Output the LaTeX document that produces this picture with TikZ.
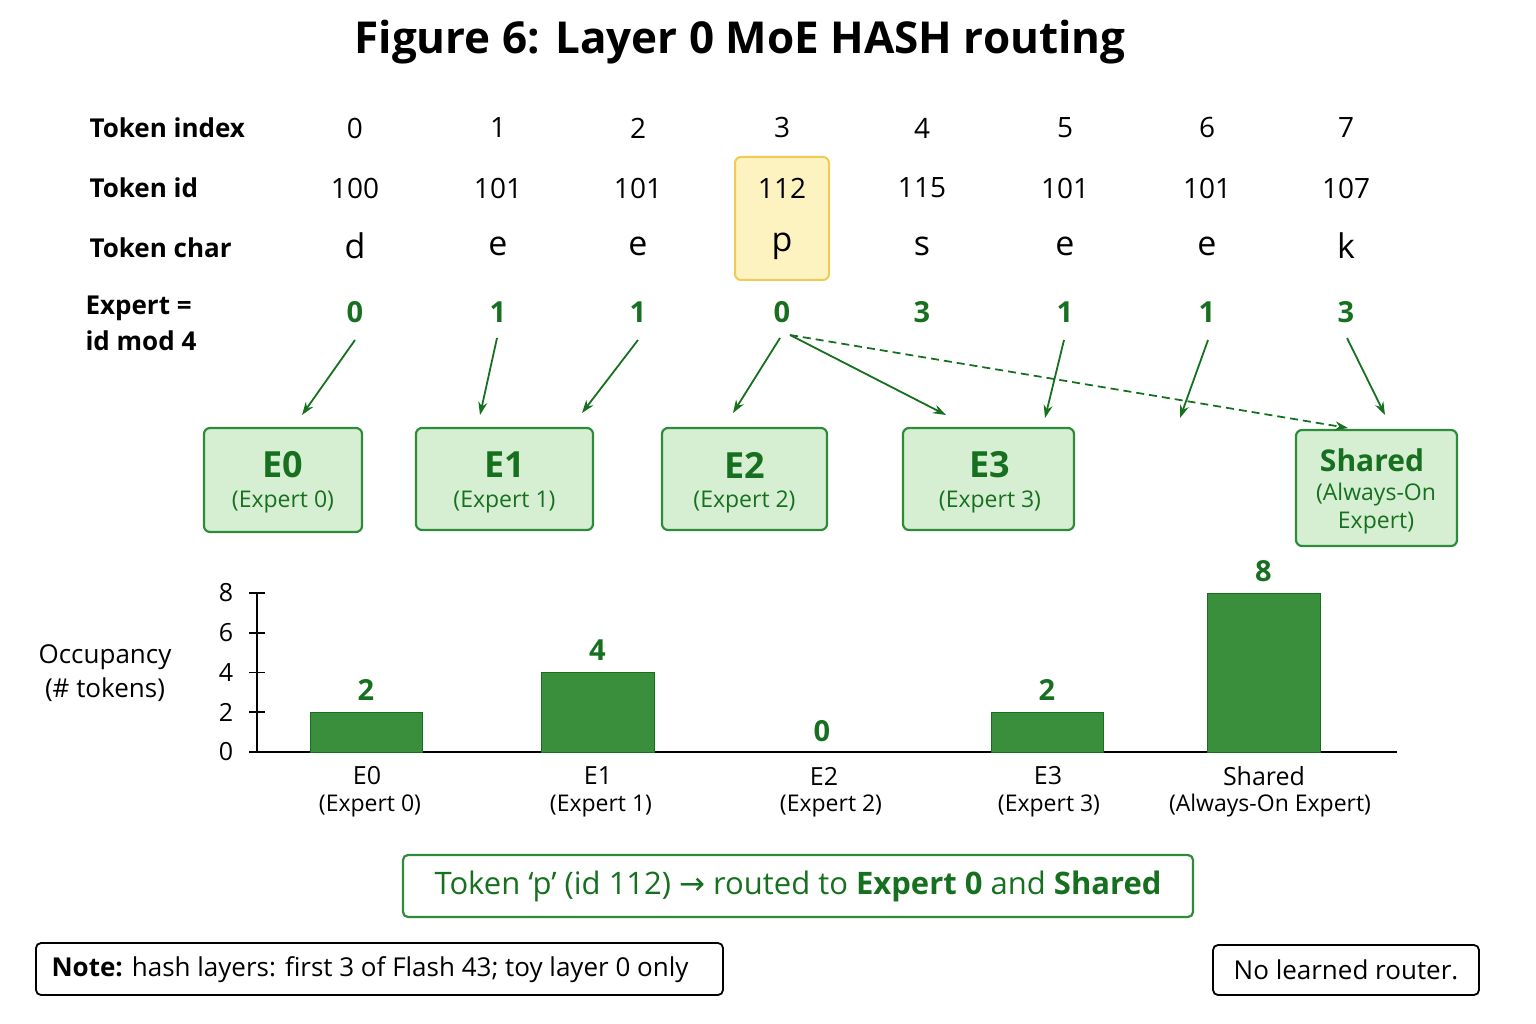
\documentclass[tikz,border=0pt]{standalone}
\usepackage{fontspec}
\setmainfont{Open Sans}
\newfontfamily\dv{DejaVu Sans}
\usetikzlibrary{arrows.meta}
\definecolor{dg}{HTML}{16701F}
\definecolor{bf}{HTML}{D6EFD3}
\definecolor{bd}{HTML}{2E8B3A}
\definecolor{bar}{HTML}{3A8F3C}
\definecolor{hy}{HTML}{FCF3C0}
\definecolor{hb}{HTML}{EFCB55}
\begin{document}
\begin{tikzpicture}[x=1pt,y=-1pt,
 lab/.style={font=\fontsize{26}{30}\selectfont\bfseries,anchor=west},
 cell/.style={font=\fontsize{28}{30}\selectfont},
 ex/.style={font=\fontsize{29}{30}\selectfont\bfseries,text=dg},
 ebox/.style={draw=bd,line width=2.2pt,fill=bf,rounded corners=6pt},
 arr/.style={-{Stealth[length=13pt,width=9pt]},dg,line width=1.8pt},
 bartxt/.style={font=\fontsize{29}{30}\selectfont\bfseries,text=dg},
 cat/.style={font=\fontsize{23}{29}\selectfont,align=center},
 nb/.style={draw=black,line width=1.8pt,rounded corners=5pt}]
\useasboundingbox (0,0) rectangle (1536,1024);
\node[font=\fontsize{44}{50}\selectfont\bfseries] (title) at (740,42) {Figure 6: Layer 0 MoE HASH routing};
\node[lab] (l1) at (86,128) {Token index};
\node[lab] (l2) at (86,188) {Token id};
\node[lab] (l3) at (86,248) {Token char};
\node[lab,align=left,anchor=north west,font=\fontsize{26}{36}\selectfont\bfseries] (l4) at (82,292) {Expert =\\id mod 4};
\node[draw=hb,fill=hy,line width=2pt,rounded corners=6pt,minimum width=94pt,minimum height=123pt] (hl) at (782,218.5) {};
\foreach \x/\i/\d/\c/\e [count=\k from 0] in {355/0/100/d/0,498/1/101/e/1,638/2/101/e/1,782/3/112/p/0,922/4/115/s/3,1065/5/101/e/1,1207/6/101/e/1,1346/7/107/k/3}{
 \node[cell] (i\k) at (\x,128) {\i};
 \node[cell] (d\k) at (\x,188) {\d};
 \node[cell,font=\fontsize{34}{36}\selectfont] (c\k) at (\x,246) {\c};
 \node[ex] (e\k) at (\x,312) {\e};
}
\node[ebox,minimum width=158pt,minimum height=104pt] (E0) at (283,480) {};
\node[ebox,minimum width=177pt,minimum height=102pt] (E1) at (504.5,479) {};
\node[ebox,minimum width=165pt,minimum height=102pt] (E2) at (744.5,479) {};
\node[ebox,minimum width=171pt,minimum height=102pt] (E3) at (988.5,479) {};
\node[ebox,minimum width=161pt,minimum height=116pt] (ES) at (1376.5,488) {};
\foreach \n/\a/\b/\x in {E0/E0/Expert 0/283,E1/E1/Expert 1/504.5,E2/E2/Expert 2/744.5,E3/E3/Expert 3/990}{
 \node[text=dg,font=\fontsize{36}{38}\selectfont\bfseries] at (\x,465) {\a};
 \node[text=dg,font=\fontsize{23}{26}\selectfont] at (\x,502) {(\b)};
}
\node[text=dg,font=\fontsize{30}{32}\selectfont\bfseries] at (1372,460) {Shared};
\node[text=dg,font=\fontsize{23}{28}\selectfont,align=center] at (1376,509) {(Always-On\\Expert)};
\coordinate (t0) at (302,415); \coordinate (t1) at (480,415); \coordinate (t2) at (582,413);
\coordinate (t3) at (733,413); \coordinate (t3b) at (946,415); \coordinate (t3c) at (1348,428);
\coordinate (t5) at (1045,418); \coordinate (t6) at (1180,418); \coordinate (t7) at (1385,415);
\coordinate (s3) at (790,335);
\draw[arr] (355,340) -- (t0);
\draw[arr] (497,338) -- (t1);
\draw[arr] (638,340) -- (t2);
\draw[arr] (780,338) -- (t3);
\draw[arr] (s3) -- (t3b);
\draw[arr,dash pattern=on 8pt off 5pt] (s3) -- (t3c);
\draw[arr] (1064,340) -- (t5);
\draw[arr] (1208,340) -- (t6);
\draw[arr] (1347,338) -- (t7);
% chart
\def\u{19.875}
\draw[line width=2.4pt] (257,593) -- (257,752) -- (1397,752);
\foreach \v in {0,2,4,6,8}{
 \draw[line width=1.8pt] (249,752-\v*\u) -- (265,752-\v*\u);
 \node[font=\fontsize{25}{28}\selectfont] at (226,752-\v*\u) {\v};
}
\node[font=\fontsize{26}{34}\selectfont,align=center] (occ) at (105,673) {Occupancy\\(\# tokens)};
\foreach \a/\b/\h/\m in {310/422/2/366,541/654/4/597.5,991/1103/2/1047,1207/1320/8/1263.5}{
 \fill[bar,draw=dg,line width=1pt] (\a,752) rectangle (\b,752-\h*\u);
 \node[bartxt] at (\m,752-\h*\u-22) {\h};
}
\node[bartxt] at (822,731) {0};
\node[cat,font=\fontsize{25}{30}\selectfont] at (367,776) {E0}; \node[cat] at (370,806) {(Expert 0)};
\node[cat,font=\fontsize{25}{30}\selectfont] at (598,776) {E1}; \node[cat] at (601,806) {(Expert 1)};
\node[cat,font=\fontsize{25}{30}\selectfont] at (824,776) {E2}; \node[cat] at (831,806) {(Expert 2)};
\node[cat,font=\fontsize{25}{30}\selectfont] at (1048,776) {E3}; \node[cat] at (1049,806) {(Expert 3)};
\node[cat,font=\fontsize{25}{30}\selectfont] at (1264,776) {Shared}; \node[cat] at (1270,806) {(Always-On Expert)};
\node[draw=bd,line width=2.2pt,rounded corners=5pt,minimum width=790pt,minimum height=62pt,text=dg,font=\fontsize{31}{34}\selectfont] (res) at (798,886) {Token ‘p’ (id 112) {\dv →} routed to \textbf{Expert 0} and \textbf{Shared}};
\node[nb,minimum width=687pt,minimum height=52pt] (note) at (379.5,969) {};
\node[font=\fontsize{26}{28}\selectfont,anchor=west] at (48,970) {\textbf{Note:} hash layers: first 3 of Flash 43; toy layer 0 only};
\node[nb,minimum width=266pt,minimum height=50pt,font=\fontsize{26}{28}\selectfont] (nl) at (1346,970) {No learned router.};
\end{tikzpicture}
\end{document}
